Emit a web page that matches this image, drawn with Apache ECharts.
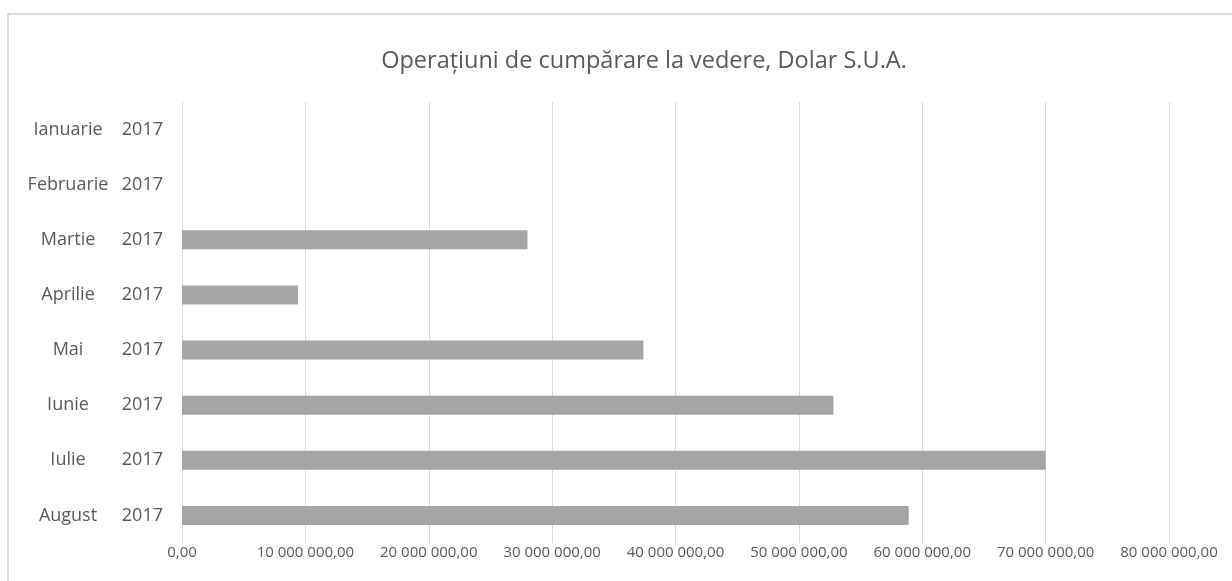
<!DOCTYPE html>
<html>
<head>
<meta charset="utf-8">
<script src="https://cdn.jsdelivr.net/npm/echarts@6/dist/echarts.min.js"></script>
<style>
  html, body { margin: 0; padding: 0; background: #fff; }
  #chart { width: 1232px; height: 581px; }
</style>
</head>
<body>
<div id="chart"></div>
<script>
// luni (categorii) si anul afisat in a doua coloana
const months = ["Ianuarie", "Februarie", "Martie", "Aprilie", "Mai", "Iunie", "Iulie", "August"];
const year = "2017";
// sume cumparate, USD
const amounts = [0, 0, 28000000, 9400000, 37400000, 52800000, 70000000, 58900000];
const titleText = "Operațiuni de cumpărare la vedere, Dolar S.U.A.";

const fmt = v => String(v).replace(/\B(?=(\d{3})+(?!\d))/g, " ") + ",00";

const chart = echarts.init(document.getElementById("chart"));
chart.setOption({
  animation: false,
  backgroundColor: "#fff",
  textStyle: { fontFamily: "Open Sans" },
  title: {
    text: titleText,
    left: 639,
    top: 44,
    textAlign: "center",
    textStyle: { fontFamily: "Open Sans", fontSize: 23.5, fontWeight: "normal", color: "#595959" }
  },
  graphic: [{
    type: "rect",
    silent: true,
    shape: { x: 8, y: 14, width: 1400, height: 800 },
    style: { fill: "none", stroke: "#d9d9d9", lineWidth: 2 }
  }],
  grid: { left: 182, right: 63, top: 102, bottom: 38, containLabel: false },
  xAxis: {
    type: "value",
    min: 0,
    max: 80000000,
    interval: 10000000,
    axisLine: { show: false },
    axisTick: { show: false },
    splitLine: { lineStyle: { color: "#d9d9d9", width: 1 } },
    axisLabel: {
      margin: 2,
      color: "#595959",
      fontSize: 15,
      fontFamily: "Open Sans",
      formatter: fmt
    }
  },
  yAxis: {
    type: "category",
    inverse: true,
    data: months,
    axisLine: { lineStyle: { color: "#d9d9d9", width: 1 } },
    axisTick: { show: false },
    axisLabel: {
      margin: 19,
      formatter: m => `{m|${m}}{y|${year}}`,
      rich: {
        m: { width: 102, align: "center", fontSize: 18, color: "#595959", fontFamily: "Open Sans" },
        y: { width: 44, align: "right", fontSize: 18, color: "#595959", fontFamily: "Open Sans" }
      }
    }
  },
  series: [{
    type: "bar",
    data: amounts,
    barWidth: 19,
    itemStyle: { color: "#a5a5a5" }
  }]
});
</script>
</body>
</html>
